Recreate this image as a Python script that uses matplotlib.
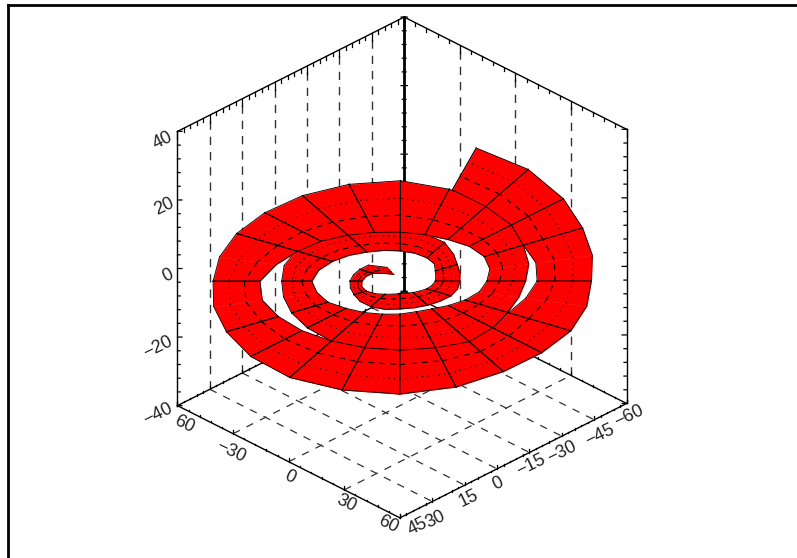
import numpy as np
import matplotlib
matplotlib.use("Agg")
import matplotlib.pyplot as plt
from matplotlib.lines import Line2D
from mpl_toolkits.mplot3d import proj3d
from mpl_toolkits.mplot3d.art3d import Poly3DCollection

# ribbon: sweep angle and inner/outer radius at each station
sweep_deg = [115, 135, 150, 165, 180, 195, 210, 225, 240, 255, 270, 285, 300, 315, 330, 345, 360,
             375, 390, 405, 420, 435, 450, 465, 480, 495, 510, 525,
             540, 555, 570, 585, 600, 615, 630, 645, 660, 675, 690, 705, 720, 735, 750,
             765, 780, 795, 810, 825, 840, 855, 870, 885, 900, 915, 930, 945, 960, 975,
             990, 1005, 1020, 1035, 1050, 1065, 1080, 1095, 1110, 1125, 1140, 1154]
r_inner = [5.3, 7.7, 11.2, 12.6, 13.5, 14.1, 13.8, 12.4, 10.6, 9.4, 8.8, 8.7, 9.2, 9.8, 10.8, 11.6, 12.4,
           13.0, 14.3, 17.0, 18.8, 20.2, 21.2, 22.3, 23.6, 25.6, 27.7, 29.8,
           31.2, 30.4, 29.4, 26.9, 25.3, 23.9, 23.0, 22.1, 22.4, 24.1, 26.5, 28.9, 30.6, 32.7, 34.2,
           34.4, 33.6, 33.6, 34.2, 35.3, 37.1, 39.5, 41.8, 45.3, 49.5, 50.4, 49.5, 48.9, 48.3, 48.1,
           48.3, 48.3, 48.9, 46.2, 44.2, 45.9, 48.3, 49.5, 50.1, 55.4, 60.2, 66.4]
r_outer = [10.6, 15.9, 16.5, 17.1, 17.7, 18.2, 18.8, 20.0, 20.6, 20.4, 19.4, 19.2, 19.4, 19.8, 20.6, 20.9, 21.0,
           21.8, 23.2, 26.6, 31.2, 34.2, 36.5, 38.2, 39.5, 41.3, 42.4, 42.4,
           41.8, 42.6, 44.2, 46.2, 48.3, 48.5, 48.3, 49.5, 50.1, 46.5, 43.8, 43.3, 44.2, 46.9, 50.1,
           55.4, 61.2, 66.5, 70.2, 70.1, 69.1, 67.7, 66.7, 66.0, 66.0, 68.1, 70.7, 74.4, 77.7, 78.7,
           78.9, 76.6, 73.0, 70.7, 69.5, 68.1, 67.4, 70.1, 74.2, 81.3, 90.1, 96.8]

x_ticks = [-60, -30, 0, 30, 60]
x_labels = ["60", "\u221230", "0", "30", "60"]
y_ticks = [45, 30, 15, 0, -15, -30, -45, -60]
y_labels = ["45", "30", "15", "0", "\u221215", "\u221230", "\u221245", "\u221260"]
z_ticks = [40, 20, 0, -20, -40]
z_labels = ["40", "20", "0", "\u221220", "\u221240"]

XMIN, XMAX = -60, 60
YFRONT, YBACK = 45, -60
ZMIN, ZMAX = -40, 40

fig = plt.figure(figsize=(7.97, 5.58), dpi=100)
ax = fig.add_axes([115.5 / 797, 4 / 558, 558 / 797, 1.0], projection="3d")
ax.set_proj_type("ortho")
ax.set_xlim(XMIN, XMAX)
ax.set_ylim(YFRONT, YBACK)
ax.set_zlim(ZMIN, ZMAX)
ax.set_box_aspect((314, 320, 317), zoom=0.957)
ax.view_init(elev=30.3, azim=-45)
ax.set_axis_off()
ax.computed_zorder = False
ax.patch.set_alpha(0)

# figure frame, only top and left are visible
fig.add_artist(Line2D([8 / 797, 8 / 797], [0, 1 - 5 / 558], color="black", lw=2.0))
fig.add_artist(Line2D([8 / 797, 1], [1 - 5 / 558, 1 - 5 / 558], color="black", lw=2.0))

# dashed grid on the walls and the floor
wall = dict(color="#333333", lw=1.0, ls=(0, (6, 5)), zorder=1)
floor = dict(color="#333333", lw=0.9, ls=(0, (6, 6)), zorder=1)
for y in y_ticks[1:-1]:
    ax.plot([XMIN, XMIN], [y, y], [ZMIN, ZMAX], **wall)
    ax.plot([XMIN, XMAX], [y, y], [ZMIN, ZMIN], **floor)
for x in x_ticks[1:-1]:
    ax.plot([x, x], [YBACK, YBACK], [ZMIN, ZMAX], **wall)
    ax.plot([x, x], [YFRONT, YBACK], [ZMIN, ZMIN], **floor)

# box edges
edge = dict(color="black", lw=1.0, zorder=2)
ax.plot([XMIN, XMIN], [YFRONT, YFRONT], [ZMIN, ZMAX], **edge)
ax.plot([XMAX, XMAX], [YBACK, YBACK], [ZMIN, ZMAX], **edge)
ax.plot([XMIN, XMIN], [YBACK, YBACK], [ZMIN, ZMAX], color="black", lw=2.0, zorder=2)
ax.plot([XMIN, XMIN], [YFRONT, YBACK], [ZMAX, ZMAX], **edge)
ax.plot([XMIN, XMAX], [YBACK, YBACK], [ZMAX, ZMAX], **edge)
ax.plot([XMIN, XMIN], [YFRONT, YBACK], [ZMIN, ZMIN], **edge)
ax.plot([XMIN, XMAX], [YBACK, YBACK], [ZMIN, ZMIN], **edge)
ax.plot([XMIN, XMAX], [YFRONT, YFRONT], [ZMIN, ZMIN], **edge)
ax.plot([XMAX, XMAX], [YFRONT, YBACK], [ZMIN, ZMIN], **edge)

# tick marks, the ones on the floor edges are little more than dots
tick = dict(color="black", lw=0.9, zorder=2)
for y in np.arange(YBACK, YFRONT + 1, 3):
    major = y % 15 == 0
    ax.plot([XMIN, XMIN], [y, y], [ZMAX, ZMAX - (2.2 if major else 1.0)], **tick)
    ax.plot([XMIN, XMIN], [y, y], [ZMIN, ZMIN + (1.0 if major else 0.4)], **tick)
    ax.plot([XMAX, XMAX], [y, y], [ZMIN, ZMIN + (1.0 if major else 0.4)], **tick)
for x in np.arange(XMIN, XMAX + 1, 6):
    major = x % 30 == 0
    ax.plot([x, x], [YBACK, YBACK], [ZMAX, ZMAX - (2.2 if major else 1.0)], **tick)
    ax.plot([x, x], [YBACK, YBACK], [ZMIN, ZMIN + (1.0 if major else 0.4)], **tick)
    ax.plot([x, x], [YFRONT, YFRONT], [ZMIN, ZMIN + (1.0 if major else 0.4)], **tick)
for z in np.arange(ZMIN, ZMAX + 1, 4):
    size = 1.2 if z % 20 == 0 else 0.7
    ax.plot([XMIN, XMIN + size], [YFRONT, YFRONT - 0.87 * size], [z, z], **tick)
    ax.plot([XMAX, XMAX - size], [YBACK, YBACK + 0.87 * size], [z, z], **tick)
    ax.plot([XMIN - size * 0.7, XMIN + size * 0.7], [YBACK + 0.6 * size, YBACK - 0.6 * size], [z, z], **tick)

# spiral ribbon, cells are added from the centre outwards so outer turns cover inner ones
sweep = np.radians(np.array(sweep_deg))
phi = -sweep - np.pi / 4
r_in = np.array(r_inner)
r_out = np.array(r_outer)
x_in = 6.8 + 1.08 * r_in * np.cos(phi)
y_in = -0.8 + 0.93 * r_in * np.sin(phi)
x_out = 6.8 + 1.08 * r_out * np.cos(phi)
y_out = -0.8 + 0.93 * r_out * np.sin(phi)
ribbon_z = 0.0


def has_spoke(j):
    # spokes are closer together across the top and bottom of the turns than at the sides
    deg = sweep_deg[j]
    if j == len(sweep_deg) - 1 or deg % 30 == 0:
        return True
    return deg % 15 == 0 and deg >= 540 and 30 <= deg % 180 <= 150


z0 = 10
for i in range(len(sweep_deg) - 1):
    order = z0 + i
    verts = [(x_in[i], y_in[i], ribbon_z), (x_out[i], y_out[i], ribbon_z),
             (x_out[i + 1], y_out[i + 1], ribbon_z), (x_in[i + 1], y_in[i + 1], ribbon_z)]
    cell = Poly3DCollection([verts], facecolors="#ff0000", edgecolors="#ff0000", linewidths=0.3)
    cell.set_zorder(order)
    ax.add_collection3d(cell, autolim=False)
    zz = [ribbon_z, ribbon_z]
    ax.plot(x_out[i:i + 2], y_out[i:i + 2], zz, color="black", lw=0.6, zorder=order)
    ax.plot(x_in[i:i + 2], y_in[i:i + 2], zz, color="black", lw=0.6, zorder=order)
    for frac, style in [(0.33, (0, (5, 5))), (0.66, (0, (1, 4)))]:
        xm = x_in[i:i + 2] + frac * (x_out[i:i + 2] - x_in[i:i + 2])
        ym = y_in[i:i + 2] + frac * (y_out[i:i + 2] - y_in[i:i + 2])
        ax.plot(xm, ym, zz, color="black", lw=0.8, ls=style, zorder=order)
    for j in (i, i + 1):
        if has_spoke(j):
            ax.plot([x_in[j], x_out[j]], [y_in[j], y_out[j]], zz, color="black", lw=0.8, zorder=order)


def add_label(x, y, z, text, dx, dy, rot):
    px, py, _ = proj3d.proj_transform(x, y, z, ax.get_proj())
    ax.annotate(text, (px, py), xytext=(dx, dy), textcoords="offset pixels", ha="center", va="center",
                rotation=rot, rotation_mode="anchor", fontsize=13, family="Liberation Sans",
                color="#222222", zorder=200, annotation_clip=False)


x_offsets = [(7, -19), (-2, -18), (1, -15), (2.5, -14), (-12, -7)]
for x, s, (dx, dy) in zip(x_ticks, x_labels, x_offsets):
    add_label(x, YFRONT, ZMIN, s, dx, dy, -26)
y_offsets = [(18, -9), (3, -18), (3.5, -13), (1, -15), (1, -13), (0, -16), (6, -15), (2, -13)]
for y, s, (dx, dy) in zip(y_ticks, y_labels, y_offsets):
    add_label(XMAX, y, ZMIN, s, dx, dy, 26)
z_offsets = [(-15, -9), (-13, -7), (-10, -7), (-20, -10), (-20, -9)]
for z, s, (dx, dy) in zip(z_ticks, z_labels, z_offsets):
    add_label(XMIN, YFRONT, z, s, dx, dy, 26)

fig.savefig("out.png", dpi=100)
